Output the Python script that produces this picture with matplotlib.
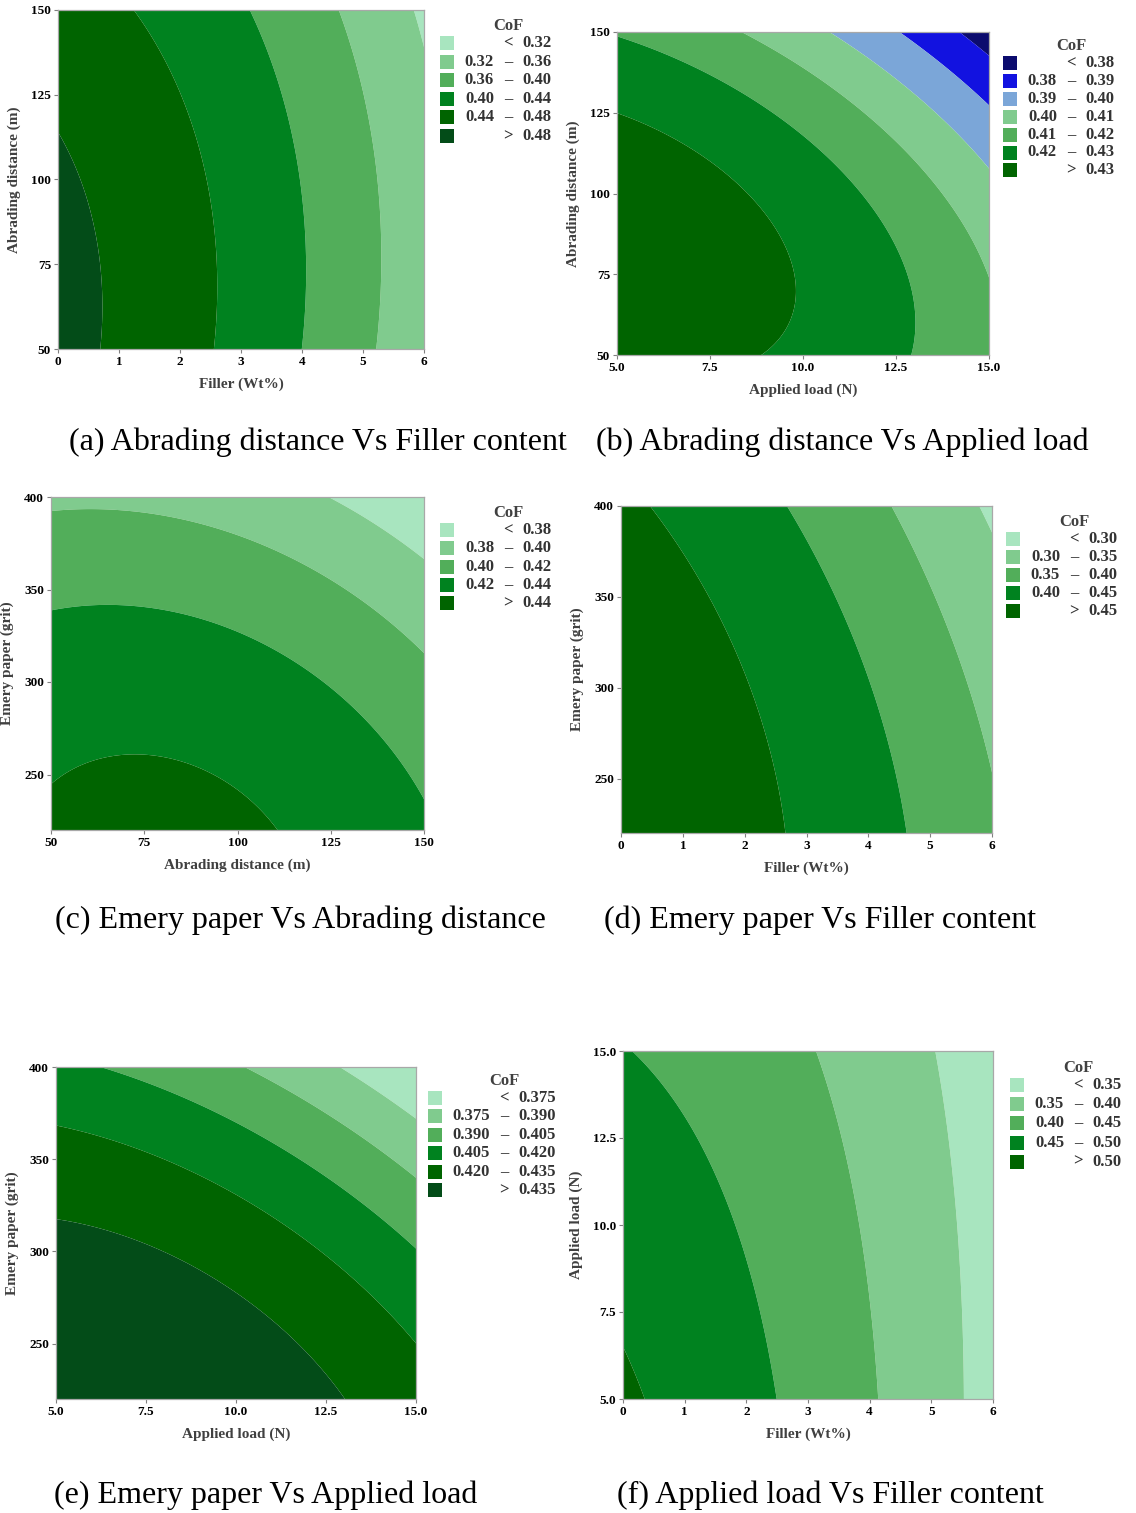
import numpy as np
import matplotlib
matplotlib.use('Agg')
import matplotlib.pyplot as plt
from matplotlib.patches import Rectangle

plt.rcParams['font.family'] = ['Liberation Serif', 'DejaVu Serif']

# ---------------- data ----------------
# fitted response surfaces: CoF = b0 + b1*u + b2*v + b11*u^2 + b22*v^2 + b12*u*v
# u, v = distance from the lower-left corner of each plot
coef_a = [0.4915, -0.0153, 8.4e-5, -0.0019, -4.12e-6, 2.6e-5]
coef_b = [0.4318, 5.25e-4, 2.77e-4, -2.55e-4, -4.02e-6, -2.45e-5]
coef_c = [0.4421, 2.15e-4, -5.8e-5, -4.11e-6, -1.08e-6, -7.4e-7]
coef_d = [0.4957, -0.0124, -7.9e-6, -0.0018, -1.11e-6, -2.5e-5]
coef_e = [0.4479, 7.2e-4, -2.5e-5, -2.9e-4, -1.1e-6, -1.44e-5]
coef_f = [0.5066, -0.0181, -0.0042, -0.00185, -1.3e-4, 7.4e-4]

levels_a = [0.32, 0.36, 0.40, 0.44, 0.48]
levels_b = [0.38, 0.39, 0.40, 0.41, 0.42, 0.43]
levels_c = [0.38, 0.40, 0.42, 0.44]
levels_d = [0.30, 0.35, 0.40, 0.45]
levels_e = [0.375, 0.390, 0.405, 0.420, 0.435]
levels_f = [0.35, 0.40, 0.45, 0.50]

filler_ticks = [0, 1, 2, 3, 4, 5, 6]
load_ticks = [5.0, 7.5, 10.0, 12.5, 15.0]
dist_ticks = [50, 75, 100, 125, 150]
emery_ticks = [250, 300, 350, 400]

captions = ['(a) Abrading distance Vs Filler content',
            '(b) Abrading distance Vs Applied load',
            '(c) Emery paper Vs Abrading distance',
            '(d) Emery paper Vs Filler content',
            '(e) Emery paper Vs Applied load',
            '(f) Applied load Vs Filler content']

# ---------------- colours ----------------
greens = ['#a8e5bf', '#80cb8e', '#52ae5a', '#00821f', '#006400', '#034c18']
blues_greens = ['#0b0b6e', '#1212e0', '#7ba6d8', '#80cb8e', '#52ae5a', '#00821f', '#006400']

W, H = 1136, 1513
fig = plt.figure(figsize=(W / 100, H / 100), dpi=100)

def px_ax(l, t, r, b):
    return [l / W, 1 - b / H, (r - l) / W, (b - t) / H]

panels = [
    dict(coef=coef_a, lv=levels_a, col=greens, xlim=(0, 6), ylim=(50, 150),
         xt=filler_ticks, xf='{:g}', yt=dist_ticks, yf='{:g}',
         xl='Filler (Wt%)', yl='Abrading distance (m)',
         rect=(58, 10, 424, 349), leg=(440, 26, 18.6), cap=(318, 442)),
    dict(coef=coef_b, lv=levels_b, col=blues_greens, xlim=(5, 15), ylim=(50, 150),
         xt=load_ticks, xf='{:.1f}', yt=dist_ticks, yf='{:g}',
         xl='Applied load (N)', yl='Abrading distance (m)',
         rect=(617, 32, 989, 355), leg=(1003, 46, 17.9), cap=(842, 442)),
    dict(coef=coef_c, lv=levels_c, col=greens[:5], xlim=(50, 150), ylim=(220, 400),
         xt=dist_ticks, xf='{:g}', yt=emery_ticks, yf='{:g}',
         xl='Abrading distance (m)', yl='Emery paper (grit)',
         rect=(51, 497, 424, 830), leg=(440, 513, 18.3), cap=(300, 920)),
    dict(coef=coef_d, lv=levels_d, col=greens[:5], xlim=(0, 6), ylim=(220, 400),
         xt=filler_ticks, xf='{:g}', yt=emery_ticks, yf='{:g}',
         xl='Filler (Wt%)', yl='Emery paper (grit)',
         rect=(621, 506, 992, 833), leg=(1006, 522, 18.0), cap=(820, 920)),
    dict(coef=coef_e, lv=levels_e, col=greens, xlim=(5, 15), ylim=(220, 400),
         xt=load_ticks, xf='{:.1f}', yt=emery_ticks, yf='{:g}',
         xl='Applied load (N)', yl='Emery paper (grit)',
         rect=(56, 1067, 416, 1399), leg=(428, 1081, 18.4), cap=(266, 1495)),
    dict(coef=coef_f, lv=levels_f, col=greens[:5], xlim=(0, 6), ylim=(5, 15),
         xt=filler_ticks, xf='{:g}', yt=load_ticks, yf='{:.1f}',
         xl='Filler (Wt%)', yl='Applied load (N)',
         rect=(623, 1051, 993, 1399), leg=(1010, 1068, 19.2), cap=(830, 1495)),
]

for p, cap in zip(panels, captions):
    ax = fig.add_axes(px_ax(*p['rect']))
    x = np.linspace(p['xlim'][0], p['xlim'][1], 400)
    y = np.linspace(p['ylim'][0], p['ylim'][1], 400)
    X, Y = np.meshgrid(x, y)
    U = X - p['xlim'][0]
    V = Y - p['ylim'][0]
    b = p['coef']
    Z = b[0] + b[1] * U + b[2] * V + b[3] * U**2 + b[4] * V**2 + b[5] * U * V
    lv = [-10] + p['lv'] + [10]
    ax.contourf(X, Y, Z, levels=lv, colors=p['col'], antialiased=True)
    ax.set_xlim(p['xlim'])
    ax.set_ylim(p['ylim'])
    ax.set_xticks(p['xt'])
    ax.set_xticklabels([p['xf'].format(v) for v in p['xt']], fontweight='bold')
    ax.set_yticks(p['yt'])
    ax.set_yticklabels([p['yf'].format(v) for v in p['yt']], fontweight='bold')
    ax.tick_params(direction='out', length=3, width=0.8, color='#808080',
                   labelsize=9.5, pad=2)
    for s in ax.spines.values():
        s.set_color('#a8a8a8')
        s.set_linewidth(0.9)
    ax.set_xlabel(p['xl'], fontsize=11, fontweight='bold', color='#404040', labelpad=7)
    ax.set_ylabel(p['yl'], fontsize=11, fontweight='bold', color='#404040', labelpad=7)

    # legend drawn by hand
    sx, ty, step = p['leg']
    nd = max(len(('%g' % v).split('.')[-1]) for v in p['lv'])
    nd = max(nd, 2)
    fmt = '{:.%df}' % nd
    lo_r = sx + 54 + 8 * (nd - 2)
    dash_x = lo_r + 14
    up_l = dash_x + 14
    fig.text(dash_x / W, 1 - ty / H, 'CoF', ha='center', va='center',
             fontsize=12, fontweight='bold', color='#404040')
    n = len(p['lv']) + 1
    for i in range(n):
        yy = ty + 17 + i * step
        fig.patches.append(Rectangle((sx / W, 1 - (yy + 7) / H), 14 / W, 14 / H,
                                     transform=fig.transFigure, facecolor=p['col'][i],
                                     edgecolor='none'))
        kw = dict(va='center', fontsize=12, fontweight='bold', color='#333333')
        if i == 0:
            fig.text(dash_x / W, 1 - yy / H, '<', ha='center', **kw)
            fig.text(up_l / W, 1 - yy / H, fmt.format(p['lv'][0]), ha='left', **kw)
        elif i == n - 1:
            fig.text(dash_x / W, 1 - yy / H, '>', ha='center', **kw)
            fig.text(up_l / W, 1 - yy / H, fmt.format(p['lv'][-1]), ha='left', **kw)
        else:
            fig.text(lo_r / W, 1 - yy / H, fmt.format(p['lv'][i - 1]), ha='right', **kw)
            fig.text(dash_x / W, 1 - yy / H, '–', ha='center', **kw)
            fig.text(up_l / W, 1 - yy / H, fmt.format(p['lv'][i]), ha='left', **kw)

    fig.text(p['cap'][0] / W, 1 - p['cap'][1] / H, cap, ha='center', va='center',
             fontsize=23, color='black')

fig.savefig('out.png', dpi=100)
